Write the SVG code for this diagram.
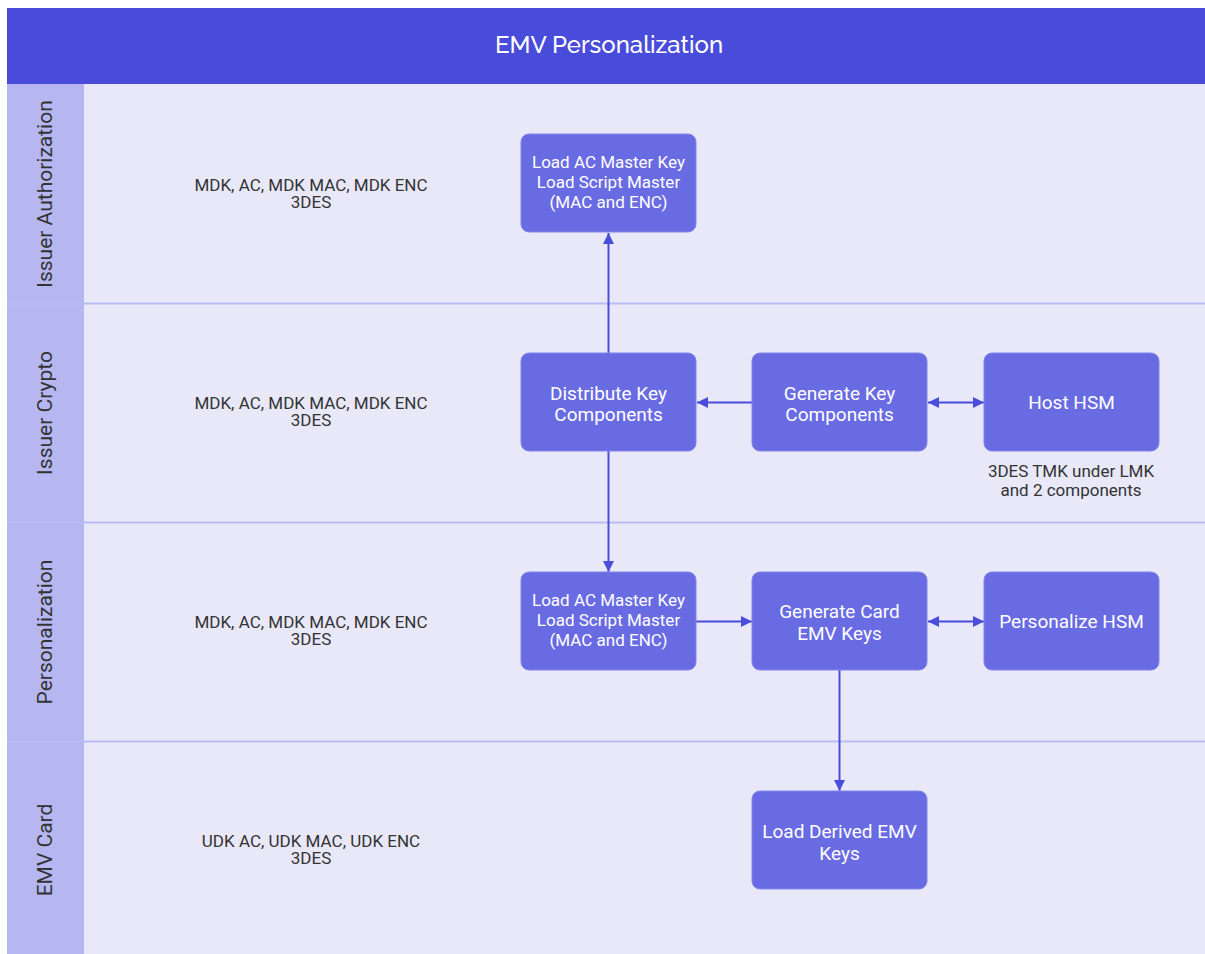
<svg xmlns="http://www.w3.org/2000/svg" width="1205" height="954" viewBox="0 0 1205 954">
<defs>
<style>
.lane{fill:#e8e8f9;}
.lab{fill:#b6b7f0;}
.sep{stroke:#b9bcf2;stroke-width:2;}
.node rect{fill:#696be3;stroke:#8385ea;stroke-width:1;}
.nt{font-family:Roboto,"Liberation Sans",sans-serif;fill:#ffffff;text-anchor:middle;font-size:19px;}
.nt3{font-family:Roboto,"Liberation Sans",sans-serif;fill:#ffffff;text-anchor:middle;font-size:17px;}
.lt{font-family:Roboto,"Liberation Sans",sans-serif;fill:#333333;text-anchor:middle;font-size:17px;}
.lanet{font-family:Roboto,"Liberation Sans",sans-serif;fill:#333333;text-anchor:middle;font-size:21px;}
.con{stroke:#4a4cdb;stroke-width:2;fill:none;}
</style>
<marker id="ah" viewBox="0 0 10 10" refX="10" refY="5" markerWidth="11" markerHeight="11" orient="auto-start-reverse" markerUnits="userSpaceOnUse">
<path d="M0,0 L10,5 L0,10 z" fill="#4a4cdb"/>
</marker>
</defs>
<rect x="0" y="0" width="1205" height="954" fill="#ffffff"/>
<g id="lanes">
<rect class="lane" x="7" y="84" width="1198" height="870"/>
<rect class="lab" x="7" y="84" width="77" height="870"/>
<line class="sep" x1="7" y1="303.5" x2="1205" y2="303.5"/>
<line class="sep" x1="7" y1="522.5" x2="1205" y2="522.5"/>
<line class="sep" x1="7" y1="741.5" x2="1205" y2="741.5"/>
<text class="lanet" transform="translate(52,194) rotate(-90)">Issuer Authorization</text>
<text class="lanet" transform="translate(52,413) rotate(-90)">Issuer Crypto</text>
<text class="lanet" transform="translate(52,632) rotate(-90)">Personalization</text>
<text class="lanet" transform="translate(52,850) rotate(-90)">EMV Card</text>
</g>
<g id="header">
<rect x="7" y="8" width="1198" height="76" fill="#494cdb"/>
<text x="609" y="53" font-family="Raleway,Lato,'Open Sans',sans-serif" font-size="24" font-weight="500" fill="#ffffff" text-anchor="middle">EMV Personalization</text>
</g>
<g id="lane-labels">
<text class="lt" x="311" y="191">MDK, AC, MDK MAC, MDK ENC</text>
<text class="lt" x="311" y="208">3DES</text>
<text class="lt" x="311" y="409">MDK, AC, MDK MAC, MDK ENC</text>
<text class="lt" x="311" y="426">3DES</text>
<text class="lt" x="311" y="628">MDK, AC, MDK MAC, MDK ENC</text>
<text class="lt" x="311" y="645">3DES</text>
<text class="lt" x="311" y="847">UDK AC, UDK MAC, UDK ENC</text>
<text class="lt" x="311" y="864">3DES</text>
<text class="lt" x="1071" y="477">3DES TMK under LMK</text>
<text class="lt" x="1071" y="496">and 2 components</text>
</g>
<g id="connectors">
<line class="con" x1="608.5" y1="353" x2="608.5" y2="233" marker-end="url(#ah)"/>
<line class="con" x1="608.5" y1="451" x2="608.5" y2="572" marker-end="url(#ah)"/>
<line class="con" x1="752" y1="402.5" x2="697" y2="402.5" marker-end="url(#ah)"/>
<line class="con" x1="928" y1="402.5" x2="984" y2="402.5" marker-start="url(#ah)" marker-end="url(#ah)"/>
<line class="con" x1="696" y1="621.5" x2="752" y2="621.5" marker-end="url(#ah)"/>
<line class="con" x1="928" y1="621.5" x2="984" y2="621.5" marker-start="url(#ah)" marker-end="url(#ah)"/>
<line class="con" x1="839.5" y1="670" x2="839.5" y2="791" marker-end="url(#ah)"/>
</g>
<g id="n1" class="node">
<rect x="521" y="134" width="175" height="98" rx="8"/>
<text class="nt3" x="608.5" y="168">Load AC Master Key</text>
<text class="nt3" x="608.5" y="188">Load Script Master</text>
<text class="nt3" x="608.5" y="208">(MAC and ENC)</text>
</g>
<g id="n2" class="node">
<rect x="521" y="353" width="175" height="98" rx="8"/>
<text class="nt" x="608.5" y="400">Distribute Key</text>
<text class="nt" x="608.5" y="421">Components</text>
</g>
<g id="n3" class="node">
<rect x="752" y="353" width="175" height="98" rx="8"/>
<text class="nt" x="839.5" y="400">Generate Key</text>
<text class="nt" x="839.5" y="421">Components</text>
</g>
<g id="n4" class="node">
<rect x="984" y="353" width="175" height="98" rx="8"/>
<text class="nt" x="1071.5" y="409">Host HSM</text>
</g>
<g id="n5" class="node">
<rect x="521" y="572" width="175" height="98" rx="8"/>
<text class="nt3" x="608.5" y="606">Load AC Master Key</text>
<text class="nt3" x="608.5" y="626">Load Script Master</text>
<text class="nt3" x="608.5" y="646">(MAC and ENC)</text>
</g>
<g id="n6" class="node">
<rect x="752" y="572" width="175" height="98" rx="8"/>
<text class="nt" x="839.5" y="618">Generate Card</text>
<text class="nt" x="839.5" y="640">EMV Keys</text>
</g>
<g id="n7" class="node">
<rect x="984" y="572" width="175" height="98" rx="8"/>
<text class="nt" x="1071.5" y="628">Personalize HSM</text>
</g>
<g id="n8" class="node">
<rect x="752" y="791" width="175" height="98" rx="8"/>
<text class="nt" x="839.5" y="838">Load Derived EMV</text>
<text class="nt" x="839.5" y="860">Keys</text>
</g>
</svg>
